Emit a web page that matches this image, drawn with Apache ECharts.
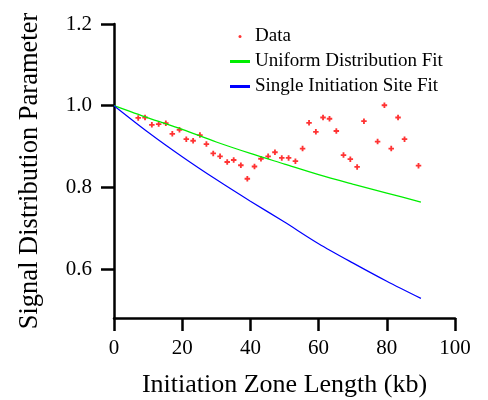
<!DOCTYPE html>
<html>
<head>
<meta charset="utf-8">
<script src="https://cdn.jsdelivr.net/npm/echarts@6/dist/echarts.min.js"></script>
<style>html,body{margin:0;padding:0;background:#fff;}#c{width:488px;height:400px;}</style>
</head>
<body>
<div id="c"></div>
<script>
// Data points (initiation zone length kb, signal distribution parameter)
const dataX = [7.1, 9.1, 11.1, 13.1, 15.2, 17.1, 19.2, 21.2, 23.2, 25.2, 27.1, 29.1, 31.1, 33.2, 35.1, 37.2, 39.1, 41.2, 43.1, 45.2, 47.2, 49.2, 51.2, 53.2, 55.3, 57.2, 59.2, 61.3, 63.2, 65.2, 67.3, 69.3, 71.3, 73.3, 77.3, 79.3, 81.3, 83.3, 85.2, 89.3];
const dataY = [0.970, 0.971, 0.953, 0.955, 0.957, 0.931, 0.941, 0.918, 0.914, 0.928, 0.906, 0.883, 0.876, 0.862, 0.867, 0.854, 0.821, 0.851, 0.870, 0.876, 0.886, 0.872, 0.872, 0.864, 0.895, 0.958, 0.936, 0.971, 0.968, 0.938, 0.879, 0.869, 0.850, 0.962, 0.912, 1.001, 0.895, 0.971, 0.918, 0.853];
// Fit curves
const fitX = [0, 10, 20, 30, 40, 50, 60, 70, 80, 90];
const uniformFit = [1.0, 0.970, 0.942, 0.911, 0.883, 0.857, 0.831, 0.808, 0.786, 0.764];
const singleFit = [1.0, 0.935, 0.875, 0.819, 0.766, 0.715, 0.662, 0.615, 0.570, 0.528];
const yTicks = [0.6, 0.8, 1.0, 1.2];
const seriesNames = ['Data', 'Uniform Distribution Fit', 'Single Initiation Site Fit'];

const font = 'Liberation Serif';
const chart = echarts.init(document.getElementById('c'), null, {renderer: 'canvas'});
const zip = (xs, ys) => xs.map((x, i) => [x, ys[i]]);

chart.setOption({
  animation: false,
  backgroundColor: '#fff',
  grid: {left: 114, right: 33, top: 24, bottom: 82, containLabel: false, outerBoundsMode: 'none'},
  legend: {
    orient: 'vertical',
    left: 230,
    top: 27,
    padding: 0,
    itemWidth: 20,
    itemHeight: 3,
    itemGap: 6,
    textStyle: {fontFamily: font, fontSize: 19, color: '#000'},
    data: [
      {name: seriesNames[0], icon: 'circle'},
      {name: seriesNames[1], icon: 'rect'},
      {name: seriesNames[2], icon: 'rect'}
    ]
  },
  xAxis: {
    type: 'value', min: 0, max: 100, interval: 20,
    name: 'Initiation Zone Length (kb)', nameLocation: 'middle', nameGap: 54,
    nameTextStyle: {fontFamily: font, fontSize: 26, color: '#000'},
    axisLine: {show: true, lineStyle: {color: '#000', width: 2.5}},
    axisTick: {show: true, inside: false, length: 13, lineStyle: {color: '#000', width: 2.5}},
    axisLabel: {fontFamily: font, fontSize: 21, color: '#000', margin: 20},
    splitLine: {show: false}
  },
  yAxis: {
    type: 'value', min: 0.48, max: 1.2,
    name: 'Signal Distribution Parameter', nameLocation: 'middle', nameGap: 70,
    nameTextStyle: {fontFamily: font, fontSize: 26.5, color: '#000'},
    axisLine: {show: true, lineStyle: {color: '#000', width: 2.5}},
    axisTick: {show: true, inside: false, length: 13, customValues: yTicks, lineStyle: {color: '#000', width: 2.5}},
    axisLabel: {fontFamily: font, fontSize: 21, color: '#000', margin: 22, customValues: yTicks,
      formatter: v => v.toFixed(1)},
    splitLine: {show: false}
  },
  series: [
    {
      name: seriesNames[0], type: 'scatter',
      symbol: 'path://M2,0H4V2H6V4H4V6H2V4H0V2H2Z', symbolSize: 5.5,
      itemStyle: {color: '#ff0000'},
      data: zip(dataX, dataY)
    },
    {
      name: seriesNames[1], type: 'line', smooth: 0.3, showSymbol: false,
      lineStyle: {color: '#00ee00', width: 1.3}, itemStyle: {color: '#00ee00'},
      data: zip(fitX, uniformFit)
    },
    {
      name: seriesNames[2], type: 'line', smooth: 0.3, showSymbol: false,
      lineStyle: {color: '#0000ff', width: 1.2}, itemStyle: {color: '#0000ff'},
      data: zip(fitX, singleFit)
    }
  ]
});
</script>
</body>
</html>
